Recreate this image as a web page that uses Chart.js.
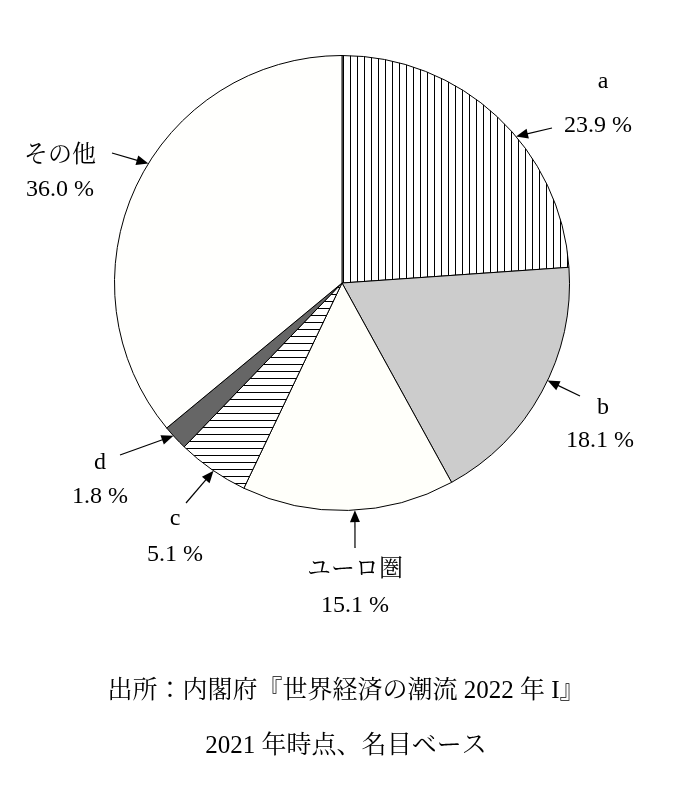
<!DOCTYPE html>
<html>
<head>
<meta charset="utf-8">
<script src="https://cdn.jsdelivr.net/npm/chart.js@4"></script>
<style>
  html, body { margin: 0; padding: 0; background: #fff; }
  #wrap { width: 692px; height: 788px; }
</style>
</head>
<body>
<div id="wrap"><canvas id="pie"></canvas></div>
<script>
// data
const categories = ['a', 'b', 'ユーロ圏', 'c', 'd', 'その他'];
const shares = [23.9, 18.1, 15.1, 5.1, 1.8, 36.0];
const valueLabels = ['23.9 %', '18.1 %', '15.1 %', '5.1 %', '1.8 %', '36.0 %'];
const sourceNote = '出所：内閣府『世界経済の潮流 2022 年 I』';
const dateNote = '2021 年時点、名目ベース';

const FONT = '"Liberation Serif", "Noto Serif CJK JP", "Noto Sans CJK JP", serif';

function hatch(vertical) {
    const c = document.createElement('canvas');
    c.width = 7; c.height = 7;
    const g = c.getContext('2d');
    g.fillStyle = '#fff';
    g.fillRect(0, 0, 7, 7);
    g.strokeStyle = '#000';
    g.lineWidth = 1;
    g.beginPath();
    if (vertical) { g.moveTo(0.5, 0); g.lineTo(0.5, 7); }
    else { g.moveTo(0, 0.5); g.lineTo(7, 0.5); }
    g.stroke();
    return g.createPattern(c, 'repeat');
}

// label layout: name pos, value pos, arrow start, fraction within slice for the tip
const labelLayout = [
    { name: [603, 82], value: [598, 126], from: [552, 128], f: 0.58 },
    { name: [603, 408], value: [600, 441], from: [580, 396], f: 0.45 },
    { name: [355, 570], value: [355, 606], from: [355, 548], f: 0.47 },
    { name: [175, 519], value: [175, 555], from: [186, 503], f: 0.48 },
    { name: [100, 463], value: [100, 497], from: [120, 455], f: 0.6 },
    { name: [60, 156], value: [60, 190], from: [112, 153], f: 0.55 }
];

function arrow(ctx, x1, y1, x2, y2) {
    const a = Math.atan2(y2 - y1, x2 - x1);
    ctx.beginPath();
    ctx.moveTo(x1, y1);
    ctx.lineTo(x2 - 8 * Math.cos(a), y2 - 8 * Math.sin(a));
    ctx.stroke();
    ctx.beginPath();
    ctx.moveTo(x2, y2);
    ctx.lineTo(x2 - 12 * Math.cos(a) + 5 * Math.sin(a), y2 - 12 * Math.sin(a) - 5 * Math.cos(a));
    ctx.lineTo(x2 - 12 * Math.cos(a) - 5 * Math.sin(a), y2 - 12 * Math.sin(a) + 5 * Math.cos(a));
    ctx.closePath();
    ctx.fill();
}

const labelsPlugin = {
    id: 'calloutLabels',
    afterDraw(chart) {
        const ctx = chart.ctx;
        const arcs = chart.getDatasetMeta(0).data;
        ctx.save();
        ctx.fillStyle = '#000';
        ctx.strokeStyle = '#000';
        ctx.lineWidth = 1.2;
        ctx.textAlign = 'center';
        ctx.textBaseline = 'middle';
        ctx.font = '24px ' + FONT;
        arcs.forEach((arc, i) => {
            const L = labelLayout[i];
            ctx.fillText(categories[i], L.name[0], L.name[1]);
            ctx.fillText(valueLabels[i], L.value[0], L.value[1]);
            const ang = arc.startAngle + L.f * (arc.endAngle - arc.startAngle);
            const tx = arc.x + arc.outerRadius * Math.cos(ang);
            const ty = arc.y + arc.outerRadius * Math.sin(ang);
            arrow(ctx, L.from[0], L.from[1], tx, ty);
        });
        ctx.font = '25px ' + FONT;
        ctx.fillText(sourceNote, 346, 691);
        ctx.fillText(dateNote, 346, 746);
        ctx.restore();
    }
};

new Chart(document.getElementById('pie'), {
    type: 'pie',
    data: {
        labels: categories,
        datasets: [{
            data: shares,
            backgroundColor: [hatch(true), '#cccccc', '#fffffa', hatch(false), '#666666', '#fffffd'],
            borderColor: '#000',
            borderWidth: 1
        }]
    },
    options: {
        responsive: true,
        maintainAspectRatio: false,
        animation: false,
        layout: { padding: { left: 114, right: 122, top: 55, bottom: 277 } },
        plugins: { legend: { display: false }, tooltip: { enabled: false } }
    },
    plugins: [labelsPlugin]
});
</script>
</body>
</html>
